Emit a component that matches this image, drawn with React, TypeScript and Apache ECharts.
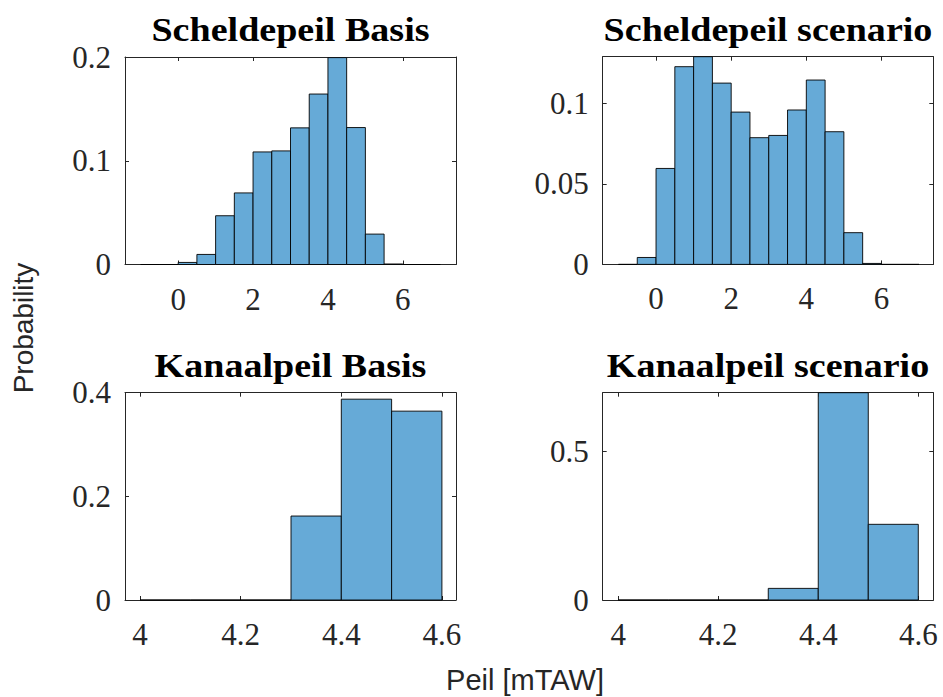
import React, { useEffect, useRef } from "react";
import * as echarts from "echarts";

// Bin starts (histogram bin edges, left side)
const scheldeBinStart = [-1, -0.5, 0, 0.5, 1, 1.5, 2, 2.5, 3, 3.5, 4, 4.5, 5, 5.5, 6, 6.5];
const scheldeBinWidth = 0.5;
const scheldeBasis = [0, 0, 0.002, 0.0097, 0.047, 0.069, 0.1085, 0.1095, 0.1317, 0.1643, 0.1994, 0.132, 0.0293, 0.0005, 0, 0];
const scheldeScenario = [0, 0.0043, 0.0596, 0.1228, 0.129, 0.1126, 0.0946, 0.0787, 0.0801, 0.0959, 0.1145, 0.0824, 0.0197, 0.0006, 0, 0];

const kanaalBinStart = [4.0, 4.1, 4.2, 4.3, 4.4, 4.5];
const kanaalBinWidth = 0.1;
const kanaalBasis = [0, 0, 0, 0.162, 0.3875, 0.3644];
const kanaalScenario = [0, 0, 0, 0.039, 0.6957, 0.254];

const titles = ["Scheldepeil Basis", "Scheldepeil scenario", "Kanaalpeil Basis", "Kanaalpeil scenario"];
const scheldeXTicks = [0, 2, 4, 6];
const kanaalXTicks = [4, 4.2, 4.4, 4.6];
const yTicks = [
  [0, 0.1, 0.2],
  [0, 0.05, 0.1],
  [0, 0.2, 0.4],
  [0, 0.5],
];
const yMax = [0.2, 0.129, 0.4, 0.6957];
const xRanges = [
  [-1.42, 7.42],
  [-1.42, 7.38],
  [3.97, 4.628],
  [3.969, 4.63],
];

const yLabel = "Probability";
const xLabel = "Peil [mTAW]";

const grids = [
  { left: 125, top: 57, width: 331, height: 207.5 },
  { left: 602.7, top: 56.7, width: 330.6, height: 207.7 },
  { left: 125, top: 392.7, width: 331, height: 207.3 },
  { left: 602.7, top: 392.7, width: 330.6, height: 207.3 },
];

const AXIS_COLOR = "#262626";
const FILL = "#66AAD7";
const SERIF = "'Liberation Serif', 'Times New Roman', serif";
const SANS = "'Liberation Sans', Arial, sans-serif";

function buildData(starts: number[], width: number, vals: number[]) {
  return starts.map((s, i) => [s, +(s + width).toFixed(4), vals[i]]);
}

const labelStyle = {
  fontFamily: SERIF,
  fontSize: 31,
  color: AXIS_COLOR,
};

export default function App() {
  const ref = useRef<HTMLDivElement>(null);
  useEffect(() => {
    if (!ref.current) return;
    const chart = echarts.init(ref.current, null, { renderer: "svg" });
    const datasets = [
      buildData(scheldeBinStart, scheldeBinWidth, scheldeBasis),
      buildData(scheldeBinStart, scheldeBinWidth, scheldeScenario),
      buildData(kanaalBinStart, kanaalBinWidth, kanaalBasis),
      buildData(kanaalBinStart, kanaalBinWidth, kanaalScenario),
    ];
    const xTickSets = [scheldeXTicks, scheldeXTicks, kanaalXTicks, kanaalXTicks];

    const xAxis: any[] = [];
    const yAxis: any[] = [];
    const series: any[] = [];
    const graphic: any[] = [];
    const fmt = (v: any) => "{t|" + String(+(+v).toFixed(4)) + "}";
    grids.forEach((g, i) => {
      const line = { show: true, onZero: false, lineStyle: { color: AXIS_COLOR, width: 1 } };
      xAxis.push({
        type: "value",
        gridIndex: i,
        position: "bottom",
        min: xRanges[i][0],
        max: xRanges[i][1],
        axisLine: line,
        axisTick: { show: true, inside: true, length: 4, customValues: xTickSets[i], lineStyle: { color: AXIS_COLOR } },
        axisLabel: {
          show: true,
          margin: 19,
          customValues: xTickSets[i],
          formatter: fmt,
          ...labelStyle,
          textStyle: labelStyle,
          rich: { t: labelStyle },
        },
        splitLine: { show: false },
      });
      xAxis.push({
        type: "value",
        gridIndex: i,
        position: "top",
        min: xRanges[i][0],
        max: xRanges[i][1],
        axisLine: line,
        axisTick: { show: true, inside: true, length: 4, customValues: xTickSets[i], lineStyle: { color: AXIS_COLOR } },
        axisLabel: { show: false },
        splitLine: { show: false },
      });
      yAxis.push({
        type: "value",
        gridIndex: i,
        position: "left",
        min: 0,
        max: yMax[i],
        axisLine: line,
        axisTick: { show: true, inside: true, length: 4, customValues: yTicks[i], lineStyle: { color: AXIS_COLOR } },
        axisLabel: {
          show: true,
          margin: 14,
          customValues: yTicks[i],
          formatter: fmt,
          ...labelStyle,
          textStyle: labelStyle,
          rich: { t: labelStyle },
        },
        splitLine: { show: false },
      });
      yAxis.push({
        type: "value",
        gridIndex: i,
        position: "right",
        min: 0,
        max: yMax[i],
        axisLine: line,
        axisTick: { show: true, inside: true, length: 4, customValues: yTicks[i], lineStyle: { color: AXIS_COLOR } },
        axisLabel: { show: false },
        splitLine: { show: false },
      });
      series.push({
        type: "custom",
        xAxisIndex: i * 2,
        yAxisIndex: i * 2,
        data: datasets[i],
        encode: { x: [0, 1], y: 2 },
        renderItem: (params: any, api: any) => {
          const x0 = api.value(0);
          const x1 = api.value(1);
          const y = api.value(2);
          const p0 = api.coord([x0, y]);
          const p1 = api.coord([x1, 0]);
          return {
            type: "rect",
            shape: { x: p0[0], y: p0[1], width: p1[0] - p0[0], height: p1[1] - p0[1] },
            style: { fill: FILL, stroke: "#000", lineWidth: 0.9 },
          };
        },
      });
      graphic.push({
        type: "text",
        x: g.left + g.width / 2,
        y: g.top - 27,
        scaleX: 1.12,
        style: {
          text: titles[i],
          fontFamily: SERIF,
          fontWeight: "bold",
          fontSize: 34,
          fill: "#000",
          align: "center",
          verticalAlign: "middle",
        },
      });
    });
    graphic.push({
      type: "text",
      x: 23,
      y: 328,
      rotation: Math.PI / 2,
      style: {
        text: yLabel,
        fontFamily: SANS,
        fontSize: 28,
        fill: AXIS_COLOR,
        align: "center",
        verticalAlign: "middle",
      },
    });
    graphic.push({
      type: "text",
      x: 525,
      y: 680,
      style: {
        text: xLabel,
        fontFamily: SANS,
        fontSize: 29,
        fill: AXIS_COLOR,
        align: "center",
        verticalAlign: "middle",
      },
    });

    chart.setOption({
      animation: false,
      backgroundColor: "#ffffff",
      textStyle: { fontFamily: SERIF },
      grid: grids.map((g) => ({ ...g, containLabel: false })),
      xAxis,
      yAxis,
      series,
      graphic,
    });
    return () => chart.dispose();
  }, []);
  return (
    <div
      ref={ref}
      style={{ position: "fixed", left: 0, top: 0, width: 943, height: 697, background: "#fff" }}
    />
  );
}
